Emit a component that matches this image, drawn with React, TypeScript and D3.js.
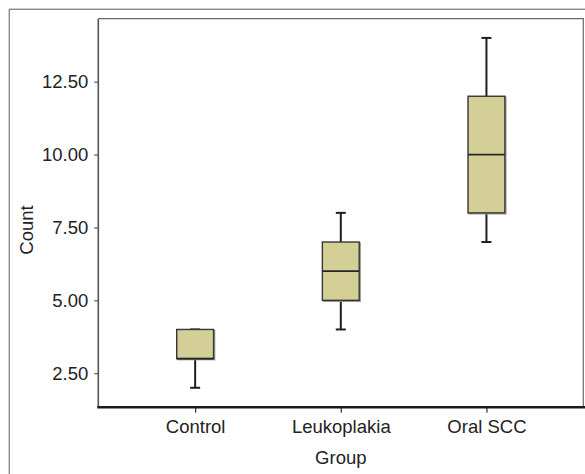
import React, { useRef, useEffect } from 'react';
import * as d3 from 'd3';

const groups = ['Control', 'Leukoplakia', 'Oral SCC'];
const mins = [2, 4, 7];
const q1s = [3, 5, 8];
const medians = [3, 6, 10];
const q3s = [4, 7, 12];
const maxs = [4, 8, 14];
const yTicks = [2.5, 5, 7.5, 10, 12.5];

function BoxPlot() {
  const svgRef = useRef<SVGSVGElement>(null);

  useEffect(() => {
    const svg = d3.select(svgRef.current);
    svg.selectAll('*').remove();

    const width = 585;
    const height = 474;
    const margin = { top: 18.7, right: 1.7, bottom: 66.7, left: 98.3 };
    const font = 'Liberation Sans, Arial, Helvetica, sans-serif';

    const data = groups.map((g, i) => ({
      group: g,
      min: mins[i],
      q1: q1s[i],
      median: medians[i],
      q3: q3s[i],
      max: maxs[i],
    }));

    const x = d3.scalePoint<string>()
      .domain(groups)
      .range([margin.left, width - margin.right])
      .padding(0.665);

    const y = d3.scaleLinear()
      .domain([1.33, 14.66])
      .range([height - margin.bottom, margin.top]);

    const step = x.step();
    const boxW = step * 0.253;
    const capW = 10;

    svg.attr('width', width).attr('height', height);

    svg.append('rect')
      .attr('width', width).attr('height', height)
      .attr('fill', '#fff');

    // outer frame
    svg.append('rect')
      .attr('x', 9.3).attr('y', 9.3)
      .attr('width', 700).attr('height', 700)
      .attr('fill', 'none')
      .attr('stroke', '#8a8a8a')
      .attr('stroke-width', 1.4);

    // plot border (top, right)
    svg.append('path')
      .attr('d', `M${margin.left},${margin.top}H${width - margin.right}V${height - margin.bottom}`)
      .attr('fill', 'none')
      .attr('stroke', '#6a6a6a')
      .attr('stroke-width', 1.2);

    const boxes = svg.append('g')
      .selectAll('g')
      .data(data)
      .enter()
      .append('g');

    // whiskers
    boxes.append('line')
      .attr('x1', d => x(d.group)!)
      .attr('x2', d => x(d.group)!)
      .attr('y1', d => y(d.max))
      .attr('y2', d => y(d.q3))
      .attr('stroke', '#1e1e1e')
      .attr('stroke-width', 2);

    boxes.append('line')
      .attr('x1', d => x(d.group)!)
      .attr('x2', d => x(d.group)!)
      .attr('y1', d => y(d.q1))
      .attr('y2', d => y(d.min))
      .attr('stroke', '#1e1e1e')
      .attr('stroke-width', 2);

    ['max', 'min'].forEach(k => {
      boxes.append('line')
        .attr('x1', d => x(d.group)! - capW / 2)
        .attr('x2', d => x(d.group)! + capW / 2)
        .attr('y1', d => y((d as any)[k]))
        .attr('y2', d => y((d as any)[k]))
        .attr('stroke', '#1e1e1e')
        .attr('stroke-width', 2);
    });

    // box shadow
    boxes.append('rect')
      .attr('x', d => x(d.group)! - boxW / 2 + 1)
      .attr('y', d => y(d.q3) + 1)
      .attr('width', boxW)
      .attr('height', d => y(d.q1) - y(d.q3))
      .attr('fill', 'none')
      .attr('stroke', '#9a9a8a')
      .attr('stroke-width', 1.4);

    boxes.append('rect')
      .attr('x', d => x(d.group)! - boxW / 2)
      .attr('y', d => y(d.q3))
      .attr('width', boxW)
      .attr('height', d => y(d.q1) - y(d.q3))
      .attr('fill', '#d4cf97')
      .attr('stroke', '#363636')
      .attr('stroke-width', 1.4);

    boxes.append('line')
      .attr('x1', d => x(d.group)! - boxW / 2)
      .attr('x2', d => x(d.group)! + boxW / 2)
      .attr('y1', d => y(d.median))
      .attr('y2', d => y(d.median))
      .attr('stroke', '#262626')
      .attr('stroke-width', 1.8);

    // y axis
    const yAxis = svg.append('g')
      .attr('transform', `translate(${margin.left}, 0)`)
      .call(d3.axisLeft(y).tickValues(yTicks).tickFormat(d3.format('.2f')).tickSize(4).tickPadding(6));
    yAxis.select('.domain').remove();
    yAxis.selectAll('line').attr('stroke', '#555').attr('stroke-width', 1.2);
    yAxis.selectAll('text')
      .attr('fill', '#222')
      .style('font-family', font)
      .style('font-size', '18.5px');

    svg.append('line')
      .attr('x1', margin.left).attr('x2', margin.left)
      .attr('y1', margin.top).attr('y2', height - margin.bottom)
      .attr('stroke', '#555')
      .attr('stroke-width', 1.6);

    // x axis
    const xAxis = svg.append('g')
      .attr('transform', `translate(0, ${height - margin.bottom})`)
      .call(d3.axisBottom(x).tickSize(5.5).tickPadding(7));
    xAxis.select('.domain').remove();
    xAxis.selectAll('line').attr('stroke', '#333').attr('stroke-width', 1.2);
    xAxis.selectAll('text')
      .attr('fill', '#222')
      .style('font-family', font)
      .style('font-size', '18.5px');

    svg.append('line')
      .attr('x1', margin.left - 1).attr('x2', width)
      .attr('y1', height - margin.bottom).attr('y2', height - margin.bottom)
      .attr('stroke', '#1a1a1a')
      .attr('stroke-width', 2.4);

    // labels
    svg.append('text')
      .attr('x', x('Leukoplakia')!)
      .attr('y', 464)
      .attr('text-anchor', 'middle')
      .attr('fill', '#222')
      .style('font-family', font)
      .style('font-size', '18.5px')
      .text('Group');

    svg.append('text')
      .attr('transform', 'translate(33, 230) rotate(-90)')
      .attr('text-anchor', 'middle')
      .attr('fill', '#222')
      .style('font-family', font)
      .style('font-size', '18.5px')
      .text('Count');
  }, []);

  return <svg ref={svgRef} style={{ position: 'absolute', left: 0, top: 0, display: 'block' }}></svg>;
}

export default function App() {
  return <BoxPlot />;
}
